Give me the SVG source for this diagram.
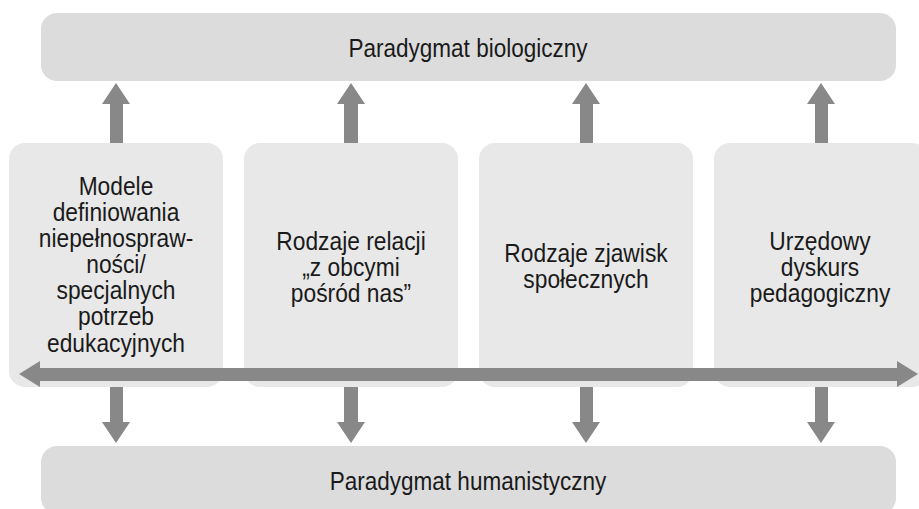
<svg xmlns="http://www.w3.org/2000/svg" width="919" height="509" viewBox="0 0 919 509">
<style>
.bar{fill:#dcdcdc}
.box{fill:#e8e8e8}
.arr{fill:#888888}
text{font-family:"Liberation Sans",Arial,sans-serif;font-size:26.5px;fill:#1a1a1a;text-anchor:middle}
</style>
<rect width="919" height="509" fill="#ffffff"/>
<g id="paradygmat-biologiczny">
<rect class="bar" x="41" y="13" width="855" height="68" rx="16"/>
<g transform="translate(468,57) scale(0.85,1)"><text x="0" y="0">Paradygmat biologiczny</text></g>
</g>
<g id="paradygmat-humanistyczny">
<rect class="bar" x="41" y="446" width="855" height="68" rx="16"/>
<g transform="translate(468,490) scale(0.85,1)"><text x="0" y="0">Paradygmat humanistyczny</text></g>
</g>
<g id="modele">
<rect class="box" x="9" y="143" width="214" height="244" rx="16"/>
<g transform="translate(116,0) scale(0.86,1)"><text x="0" y="195">Modele</text><text x="0" y="221">definiowania</text><text x="0" y="247">niepełnospraw-</text><text x="0" y="273">ności/</text><text x="0" y="299">specjalnych</text><text x="0" y="325">potrzeb</text><text x="0" y="352">edukacyjnych</text></g>
</g>
<g id="rodzaje-relacji">
<rect class="box" x="244" y="143" width="214" height="244" rx="16"/>
<g transform="translate(351,0) scale(0.86,1)"><text x="0" y="250">Rodzaje relacji</text><text x="0" y="276">„z obcymi</text><text x="0" y="302">pośród nas”</text></g>
</g>
<g id="rodzaje-zjawisk">
<rect class="box" x="479" y="143" width="214" height="244" rx="16"/>
<g transform="translate(586,0) scale(0.86,1)"><text x="0" y="262">Rodzaje zjawisk</text><text x="0" y="288">społecznych</text></g>
</g>
<g id="urzedowy-dyskurs">
<rect class="box" x="714" y="143" width="214" height="244" rx="16"/>
<g transform="translate(820,0) scale(0.86,1)"><text x="0" y="250">Urzędowy</text><text x="0" y="276">dyskurs</text><text x="0" y="302">pedagogiczny</text></g>
</g>
<g id="connectors">
<polygon class="arr" points="19,374 40,361 40,368 897,368 897,361 918,374 897,387 897,381 40,381 40,387"/>
<g id="up-arrows">
<polygon class="arr" points="110,143 110,104 102,104 116,83 130,104 123,104 123,143"/>
<polygon class="arr" points="344,143 344,104 337,104 351,83 365,104 358,104 358,143"/>
<polygon class="arr" points="580,143 580,104 572,104 586,83 600,104 593,104 593,143"/>
<polygon class="arr" points="815,143 815,104 807,104 821,83 835,104 828,104 828,143"/>
</g>
<g id="down-arrows">
<polygon class="arr" points="110,387 110,422 102,422 116,443 130,422 123,422 123,387"/>
<polygon class="arr" points="344,387 344,422 337,422 351,443 365,422 358,422 358,387"/>
<polygon class="arr" points="580,387 580,422 572,422 586,443 600,422 593,422 593,387"/>
<polygon class="arr" points="815,387 815,422 807,422 821,443 835,422 828,422 828,387"/>
</g>
</g>
</svg>
